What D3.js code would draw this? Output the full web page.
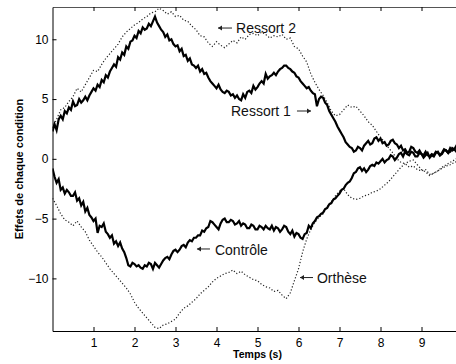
<!DOCTYPE html>
<html><head><meta charset="utf-8">
<script src="https://cdn.jsdelivr.net/npm/d3@7"></script>
<style>body{margin:0;background:#fff}svg{display:block}</style>
</head><body><svg id="c" width="456" height="364"></svg>
<script>
// sample times (s)
const timeFine = [0,0.05,0.1,0.15,0.2,0.25,0.3,0.35,0.4,0.45,0.5,0.55,0.6,0.65,0.7,0.75,0.8,0.85,0.9,0.95,
1,1.05,1.1,1.15,1.2,1.25,1.3,1.35,1.4,1.45,1.5,1.55,1.6,1.65,1.7,1.75,1.8,1.85,1.9,1.95,
2,2.05,2.1,2.15,2.2,2.25,2.3,2.35,2.4,2.45,2.5,2.55,2.6,2.65,2.7,2.75,2.8,2.85,2.9,2.95,
3,3.05,3.1,3.15,3.2,3.25,3.3,3.35,3.4,3.45,3.5,3.55,3.6,3.65,3.7,3.75,3.8,3.85,3.9,3.95,
4,4.05,4.1,4.15,4.2,4.25,4.3,4.35,4.4,4.45,4.5,4.55,4.6,4.65,4.7,4.75,4.8,4.85,4.9,4.95,
5,5.05,5.1,5.15,5.2,5.25,5.3,5.35,5.4,5.45,5.5,5.55,5.6,5.65,5.7,5.75,5.8,5.85,5.9,5.95,
6,6.05,6.1,6.15,6.2,6.25,6.3,6.35,6.4,6.45,6.5,6.55,6.6,6.65,6.7,6.75,6.8,6.85,6.9,6.95,
7,7.05,7.1,7.15,7.2,7.25,7.3,7.35,7.4,7.45,7.5,7.55,7.6,7.65,7.7,7.75,7.8,7.85,7.9,7.95,
8,8.05,8.1,8.15,8.2,8.25,8.3,8.35,8.4,8.45,8.5,8.55,8.6,8.65,8.7,8.75,8.8,8.85,8.9,8.95,
9,9.05,9.1,9.15,9.2,9.25,9.3,9.35,9.4,9.45,9.5,9.55,9.6,9.65,9.7,9.75,9.8,9.85,9.9,9.95,10];
const timeCoarse = [0,0.1,0.2,0.3,0.4,0.5,0.6,0.7,0.8,0.9,1,1.1,1.2,1.3,1.4,1.5,1.6,1.7,1.8,1.9,2,2.1,2.2,2.3,2.4,2.5,2.6,2.7,2.8,2.9,3,3.1,3.2,3.3,3.4,3.5,3.6,3.7,3.8,3.9,4,4.1,4.2,4.3,4.4,4.5,4.6,4.7,4.8,4.9,5,5.1,5.2,5.3,5.4,5.5,5.6,5.7,5.8,5.9,6,6.1,6.2,6.3,6.4,6.5,6.6,6.7,6.8,6.9,7,7.1,7.2,7.3,7.4,7.5,7.6,7.7,7.8,7.9,8,8.1,8.2,8.3,8.4,8.5,8.6,8.7,8.8,8.9,9,9.1,9.2,9.3,9.4,9.5,9.6,9.7,9.8,9.9,10];

// Ressort 1 (solid), sampled on timeFine
const ressort1 = [2.3,2.9,2.4,3.3,3.6,3.3,4.0,3.8,4.3,4.1,4.8,4.4,4.5,5.0,4.7,4.9,5.2,4.9,5.3,5.6,
5.9,5.7,6.2,6.0,6.6,6.4,7.0,6.8,7.3,7.6,7.9,7.7,8.5,8.3,8.9,8.7,9.4,9.2,9.8,9.9,
10.3,10.1,10.7,10.5,11.0,10.8,10.9,11.3,11.1,11.5,11.9,11.4,11.1,10.8,10.6,10.2,10.4,9.9,10.0,9.6,
9.4,9.5,9.0,9.2,8.6,8.7,8.2,8.4,7.9,7.8,7.6,7.8,7.3,7.5,7.1,7.2,6.8,6.5,6.3,6.1,
5.9,6.2,5.8,5.6,5.5,5.7,5.6,5.3,5.4,5.1,5.3,5.0,4.9,5.4,5.1,5.6,5.7,5.5,6.1,5.8,
6.0,6.3,6.5,6.3,7.1,6.7,6.9,7.0,7.2,7.0,7.3,7.5,7.6,7.8,7.8,7.6,7.5,7.3,7.2,6.9,
6.8,6.5,6.3,6.1,5.9,6.0,5.7,5.5,5.4,4.4,5.0,5.2,5.1,4.7,4.5,4.0,3.7,3.4,3.1,2.7,
2.4,2.1,1.8,1.4,1.2,1.0,0.9,0.6,0.7,1.0,0.9,0.7,1.1,1.3,1.5,1.2,1.3,1.7,1.8,1.5,
1.7,1.3,1.4,1.1,1.2,1.5,1.6,1.3,1.2,0.9,1.1,0.7,0.8,0.5,0.6,1.0,0.9,0.6,0.5,0.7,
0.4,0.3,0.6,0.3,0.2,0.4,0.3,0.6,0.5,0.3,0.4,0.7,0.7,0.5,0.9,0.7,0.8,1.1,1.0,0.8,1.1];
// Contrôle (solid), sampled on timeFine
const controle = [-0.8,-1.5,-2.0,-1.7,-2.6,-2.4,-2.9,-2.6,-2.8,-3.1,-3.1,-2.8,-3.5,-3.3,-3.9,-3.6,-4.4,-4.1,-4.7,-4.9,
-5.2,-5.0,-6.2,-5.6,-5.7,-5.4,-6.1,-6.3,-6.6,-6.4,-7.1,-6.9,-7.3,-7.0,-7.5,-7.8,-8.3,-8.9,-9.0,-8.7,
-8.8,-9.0,-8.9,-9.1,-9.2,-8.9,-9.0,-8.7,-8.8,-9.2,-8.7,-8.9,-9.1,-8.8,-8.5,-8.3,-8.2,-8.4,-8.0,-7.7,
-7.6,-7.8,-7.6,-7.3,-7.2,-7.4,-7.0,-6.8,-6.9,-6.6,-6.6,-6.4,-6.4,-6.0,-6.1,-5.8,-5.7,-5.2,-5.3,-5.5,
-5.7,-5.9,-5.4,-5.1,-5.0,-5.3,-5.3,-5.1,-5.2,-5.5,-5.4,-5.2,-5.6,-5.4,-5.5,-5.8,-5.8,-5.5,-5.6,-5.9,
-5.9,-5.6,-5.7,-5.9,-5.6,-5.8,-5.9,-5.6,-6.0,-5.7,-5.8,-6.1,-5.9,-5.6,-5.7,-6.1,-6.3,-6.0,-6.5,-6.2,
-6.3,-6.6,-6.7,-6.3,-6.2,-5.6,-5.8,-5.4,-5.2,-4.9,-4.8,-4.6,-4.5,-4.2,-4.1,-3.8,-3.7,-3.4,-3.3,-3.1,
-2.9,-2.6,-2.5,-2.2,-2.0,-1.9,-1.6,-1.2,-1.1,-0.8,-0.7,-1.0,-0.8,-1.1,-0.9,-0.6,-0.5,-0.6,-0.3,-0.4,
-0.2,0.0,-0.3,-0.1,0.0,0.3,0.2,-0.1,0.1,0.4,0.5,0.2,0.6,0.4,0.3,0.6,0.5,0.2,0.2,0.5,
0.4,0.1,0.3,0.5,0.1,0.3,0.2,0.5,0.6,0.3,0.5,0.8,0.7,0.5,0.6,0.9,0.8,0.6,0.9,1.0,1.0];
// Ressort 2 (dotted), sampled on timeCoarse
const ressort2 = [2.6,3.3,4.1,4.3,4.8,5.2,5.9,5.6,6.2,6.8, 7.4,7.3,7.9,8.4,8.8,9.2,9.6,10.2,10.6,10.9, 11.2,11.4,11.7,11.9,12.2,12.3,12.6,12.4,12.1,12.3, 11.9,12.0,11.6,11.5,11.1,10.8,10.3,10.2,9.7,9.4, 9.8,9.5,9.3,9.6,9.9,9.7,10.2,10.0,10.4,10.5, 10.3,10.6,10.4,10.1,10.3,10.2,10.4,10.0,10.1,9.4, 9.2,8.6,8.1,7.1,6.4,5.8,5.3,4.7,4.0,3.6, 3.7,4.1,4.5,4.3,4.4,4.0,3.6,3.1,2.8,2.3, 1.8,1.4,0.9,0.5,0.0,-0.3,-0.4,-0.7,-0.6,-0.9, -1.0,-0.9,-1.3,-1.2,-1.0,-0.8,-0.6,-0.5,-0.3,-0.2, 0.0];
// Orthèse (dotted), sampled on timeCoarse
const orthese = [-3.3,-3.9,-4.6,-5.1,-5.3,-5.6,-5.2,-5.7,-6.1,-6.8, -7.3,-7.8,-8.2,-8.7,-9.2,-9.6,-10.0,-10.4,-10.8,-11.3, -12.0,-12.5,-12.9,-13.3,-13.7,-14.1,-14.2,-13.9,-13.8,-13.6, -13.4,-12.9,-12.5,-12.3,-12.0,-11.7,-11.3,-11.0,-10.7,-10.3, -10.0,-9.8,-9.6,-9.5,-9.3,-9.6,-9.4,-9.7,-9.9,-10.1, -10.2,-10.5,-10.7,-10.8,-11.1,-11.0,-11.4,-11.7,-11.2,-10.2, -9.2,-7.8,-6.7,-5.9,-5.3,-4.9,-4.6,-4.0,-3.6,-3.1, -2.7,-2.5,-3.0,-3.3,-3.4,-3.3,-3.1,-3.0,-2.8,-2.7, -2.5,-2.2,-1.9,-1.5,-1.1,-0.7,-0.4,-0.2,-0.1,-0.5, -0.9,-1.1,-1.4,-1.2,-1.0,-0.7,-0.5,-0.3,-0.1,0.1, 0.2];

const xTicks = [1,2,3,4,5,6,7,8,9];
const yTicks = [-10,-5,0,5,10];
const seriesNames = ["Ressort 1","Ressort 2","Contrôle","Orthèse"];
const xLabel = "Temps (s)";
const yLabel = "Effets de chaque condition";

const FONT = '"Liberation Sans", Arial, Helvetica, sans-serif';
const x = d3.scaleLinear().domain([0,10]).range([52.5,462.5]);
const y = d3.scaleLinear().domain([-14.4,12.7]).range([331,7]);
const svg = d3.select('#c');

svg.append('defs').append('clipPath').attr('id','clip').append('rect')
  .attr('x', x(0)).attr('y', y(12.7)).attr('width', x(10)-x(0)).attr('height', y(-14.4)-y(12.7));

const g = svg.append('g').attr('clip-path','url(#clip)');
const series = [
  {name: seriesNames[0], t: timeFine, values: ressort1, dotted:false},
  {name: seriesNames[1], t: timeCoarse, values: ressort2, dotted:true},
  {name: seriesNames[2], t: timeFine, values: controle, dotted:false},
  {name: seriesNames[3], t: timeCoarse, values: orthese, dotted:true}
];
function lineFor(s){ return d3.line().x((d,i)=>x(s.t[i])).y(d=>y(d)); }
series.filter(s=>s.dotted).forEach(s=>{
  g.append('path').datum(s.values).attr('d', lineFor(s))
    .attr('fill','none').attr('stroke','#222').attr('stroke-width',1.2)
    .attr('stroke-dasharray','1.2,2');
});
series.filter(s=>!s.dotted).forEach(s=>{
  g.append('path').datum(s.values).attr('d', lineFor(s))
    .attr('fill','none').attr('stroke','#000').attr('stroke-width',2.2)
    .attr('stroke-linejoin','miter');
});

function styleAxis(sel){
  sel.attr('font-family', FONT).attr('font-size', 12);
  sel.selectAll('path,line').attr('stroke','#000');
  sel.selectAll('text').attr('fill','#000');
}
svg.append('g').attr('transform',`translate(0,${y(-14.4)})`)
  .call(d3.axisBottom(x).tickValues(xTicks).tickSize(-4).tickSizeOuter(0).tickPadding(7).tickFormat(d3.format('d')))
  .call(styleAxis);
svg.append('g').attr('transform',`translate(0,${y(12.7)})`)
  .call(d3.axisTop(x).tickValues(xTicks).tickSize(-4).tickSizeOuter(0).tickFormat(''))
  .call(styleAxis)
  .call(s=>s.select('.domain').attr('stroke','#555'));
svg.append('g').attr('transform',`translate(${x(0)},0)`)
  .call(d3.axisLeft(y).tickValues(yTicks).tickSize(-4).tickSizeOuter(0).tickPadding(4).tickFormat(d3.format('d')))
  .call(styleAxis);
svg.append('g').attr('transform',`translate(${x(10)},0)`)
  .call(d3.axisRight(y).tickValues(yTicks).tickSize(-4).tickSizeOuter(0).tickFormat(''))
  .call(styleAxis);

svg.append('text').attr('x', (x(0)+x(10))/2).attr('y', 358)
  .attr('text-anchor','middle').attr('font-family',FONT).attr('font-weight','bold').attr('font-size',10.5)
  .text(xLabel);
svg.append('text').attr('transform',`translate(23,${(y(12.7)+y(-14.4))/2}) rotate(-90)`)
  .attr('text-anchor','middle').attr('font-family',FONT).attr('font-weight','bold').attr('font-size',11)
  .text(yLabel);

// annotations: text anchor (t,v) in data units; arrow given in data units too
const notes = [
  {text: seriesNames[1], t: 4.476, v: 10.52, a0: 4.378, a1: 4.037, av: 10.94},
  {text: seriesNames[0], t: 4.354, v: 3.58,  a0: 5.963, a1: 6.305, av: 4.0},
  {text: seriesNames[2], t: 3.963, v: -8.05, a0: 3.841, a1: 3.524, av: -7.54},
  {text: seriesNames[3], t: 6.451, v: -10.36, a0: 6.354, a1: 6.037, av: -9.93}
];
const ann = svg.append('g');
ann.selectAll('text').data(notes).join('text')
  .attr('x', d=>x(d.t)).attr('y', d=>y(d.v))
  .attr('font-family',FONT).attr('font-size',14).attr('fill','#111')
  .text(d=>d.text);
ann.selectAll('line').data(notes).join('line')
  .attr('x1', d=>x(d.a0)).attr('x2', d=>x(d.a1))
  .attr('y1', d=>y(d.av)).attr('y2', d=>y(d.av))
  .attr('stroke','#222').attr('stroke-width',1);
ann.selectAll('path').data(notes).join('path')
  .attr('d', d=>{
    const tx = x(d.a1), ty = y(d.av), dir = Math.sign(x(d.a1)-x(d.a0));
    return `M${tx},${ty} L${tx-dir*4},${ty-2.5} L${tx-dir*4},${ty+2.5} Z`;
  })
  .attr('fill','#222');
</script></body></html>
